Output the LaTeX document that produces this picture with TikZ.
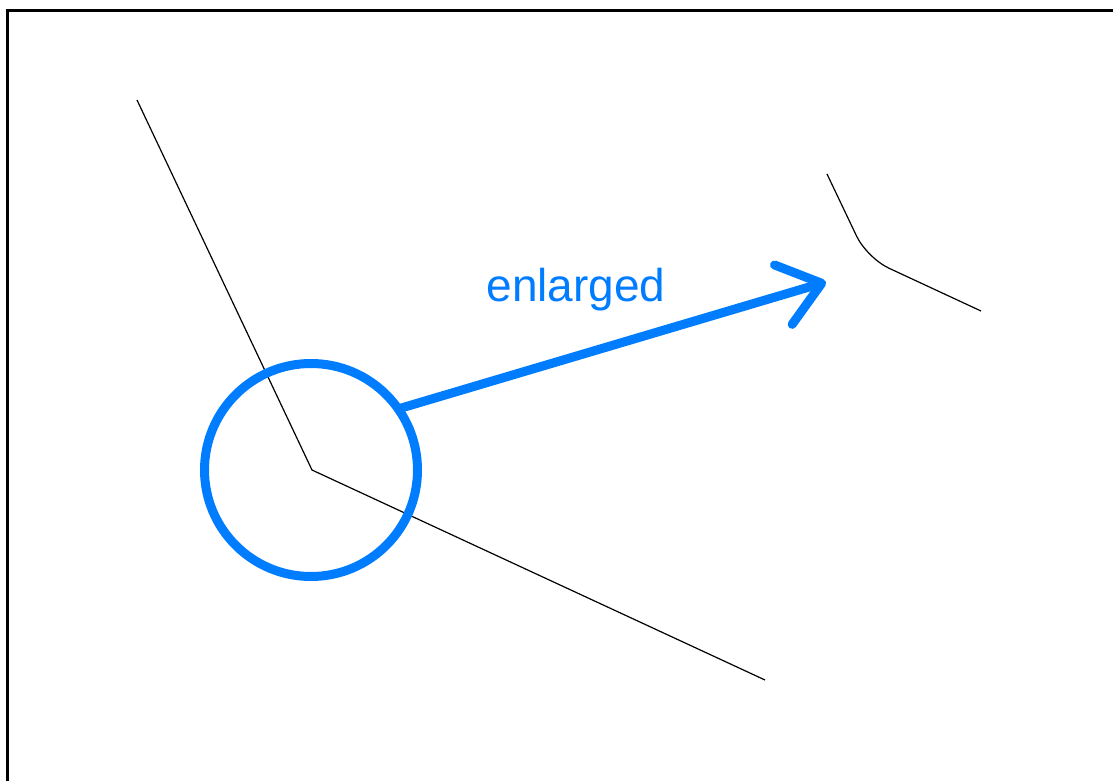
\documentclass[tikz,border=0pt]{standalone}
\usepackage{fontspec}
\setsansfont{Liberation Sans}
\usetikzlibrary{arrows.meta}
\definecolor{zoomblue}{RGB}{0,125,255}
\tikzset{
  edgeline/.style = {draw=black, line width=1.2pt},
  zoomline/.style = {draw=zoomblue, line width=9pt},
}

\begin{document}
\begin{tikzpicture}[
            x=1pt, y=-1pt,
            lens/.style    ={circle, zoomline, minimum size=213pt,
                    inner sep=0pt, outer sep=0pt},
            pointer/.style ={zoomline, line cap=round,
                    -{Straight Barb[length=40pt, width=62pt, round]}},
            lbl/.style     ={font=\sffamily\fontsize{46}{55}\selectfont,
                    text=zoomblue, inner sep=0pt, anchor=base},
            frame/.style   ={draw=black, line width=3pt}
        ]
        \useasboundingbox (0,0) rectangle (1113,781);

        %% --- frame (only left and top edges are in view) ------------------
        \draw[frame] (7.5,781) -- (7.5,10.5) -- (1113,10.5);

        %% --- original corner ----------------------------------------------
        \coordinate (corner) at (312,470);
        \draw[edgeline] (137,100) -- (corner) -- (765,680);

        %% --- enlarged corner (rounded) ------------------------------------
        \draw[edgeline, rounded corners=24pt] (827,174) -- (867,258) -- (981,311);

        %% --- lens and pointer ---------------------------------------------
        \node[lens] (lens) at (311,470) {};
        \coordinate (tip) at (826,282);
        \draw[pointer] (lens.35) -- (tip);
        \node[lbl] (label) at (576,301) {enlarged};

    \end{tikzpicture}
\end{document}
